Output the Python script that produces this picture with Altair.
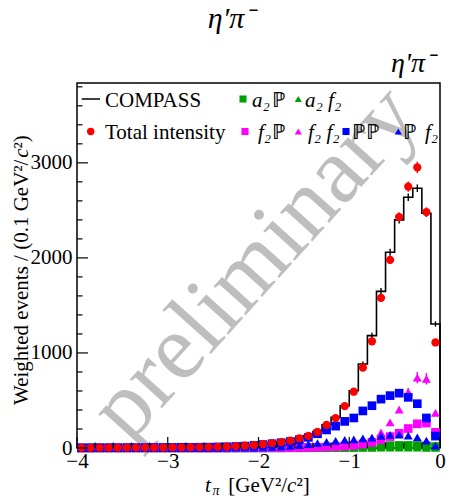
import altair as alt
import pandas as pd

FONT = "Liberation Serif"
W, H = 363, 365

# ---- data (bin centres in t_pi, 0.1 GeV^2/c^2 bins) ----
t_centers = [-3.95, -3.85, -3.75, -3.65, -3.55, -3.45, -3.35, -3.25, -3.15, -3.05,
             -2.95, -2.85, -2.75, -2.65, -2.55, -2.45, -2.35, -2.25, -2.15, -2.05,
             -1.95, -1.85, -1.75, -1.65, -1.55, -1.45, -1.35, -1.25, -1.15, -1.05,
             -0.95, -0.85, -0.75, -0.65, -0.55, -0.45, -0.35, -0.25, -0.15, -0.05]

compass = [3, 3, 4, 3, 4, 5, 4, 5, 6, 5,
           7, 7, 8, 10, 11, 13, 16, 20, 25, 32,
           40, 53, 65, 80, 100, 130, 172, 245, 322, 445,
           603, 884, 1182, 1648, 2059, 2400, 2638, 2733, 2470, 1305]
compass_err = [2, 2, 2, 2, 2, 2, 2, 2, 3, 3,
               3, 3, 3, 4, 4, 4, 5, 5, 6, 6,
               7, 8, 9, 10, 11, 12, 14, 16, 18, 20,
               22, 26, 30, 34, 36, 38, 40, 40, 38, 28]

total = [2, 2, 3, 3, 3, 4, 4, 4, 5, 5,
         6, 7, 8, 9, 10, 12, 15, 19, 24, 31,
         42, 52, 63, 78, 101, 127, 170, 242, 315, 440,
         592, 845, 1123, 1579, 1979, 2430, 2750, 2952, 2482, 1110]
total_err = [2, 2, 2, 2, 2, 2, 2, 2, 3, 3,
             3, 3, 3, 4, 4, 4, 5, 5, 6, 6,
             7, 8, 9, 10, 11, 12, 14, 16, 18, 20,
             24, 28, 34, 40, 44, 50, 55, 60, 50, 35]

pp = [2, 2, 3, 3, 3, 4, 4, 4, 5, 5,
      6, 7, 7, 8, 9, 11, 13, 16, 20, 27,
      36, 45, 55, 68, 88, 112, 150, 190, 230, 280,
      316, 390, 445, 514, 551, 577, 533, 466, 316, 125]

pf2 = [0, 0, 0, 0, 0, 0, 0, 0, 0, 0,
       1, 1, 1, 1, 2, 2, 3, 3, 4, 5,
       7, 10, 15, 22, 30, 40, 52, 64, 76, 86,
       92, 100, 110, 128, 138, 140, 130, 112, 78, 25]

f2p = [0, 0, 0, 0, 0, 0, 0, 0, 0, 0,
       0, 0, 0, 0, 0, 0, 0, 1, 1, 1,
       1, 2, 2, 3, 3, 5, 7, 10, 14, 20,
       28, 42, 60, 87, 120, 155, 205, 255, 262, 165]

f2f2 = [0, 0, 0, 0, 0, 0, 0, 0, 0, 0,
        0, 0, 0, 0, 0, 0, 0, 0, 1, 1,
        2, 3, 4, 6, 8, 11, 14, 18, 22, 28,
        38, 60, 100, 165, 270, 405, 590, 740, 728, 370]
f2f2_err = [0, 0, 0, 0, 0, 0, 0, 0, 0, 0,
            0, 0, 0, 0, 0, 0, 0, 0, 1, 1,
            1, 1, 2, 2, 3, 3, 4, 5, 6, 7,
            8, 10, 14, 18, 24, 30, 40, 60, 60, 30]

a2p = [0, 0, 0, 0, 0, 0, 0, 0, 0, 0,
       0, 0, 0, 0, 0, 0, 0, 0, 0, 1,
       1, 1, 1, 2, 2, 2, 3, 3, 4, 5,
       8, 12, 18, 22, 25, 27, 27, 25, 22, 15]

a2f2 = [0, 0, 0, 0, 0, 0, 0, 0, 0, 0,
        0, 0, 0, 0, 0, 0, 0, 0, 0, 0,
        0, 0, 0, 0, 1, 1, 1, 1, 1, 1,
        2, 2, 2, 3, 3, 3, 3, 3, 2, 2]

x_major = [-4, -3, -2, -1, 0]
x_minor = [-3.8, -3.6, -3.4, -3.2, -2.8, -2.6, -2.4, -2.2, -1.8, -1.6, -1.4, -1.2,
           -0.8, -0.6, -0.4, -0.2]
y_major = [0, 1000, 2000, 3000]
y_minor = [200, 400, 600, 800, 1200, 1400, 1600, 1800, 2200, 2400, 2600, 2800,
           3200, 3400, 3600, 3800]

RED, BLUE, MAG, GREEN = "#ff0000", "#0000ff", "#ff00ff", "#00a000"

xs = alt.Scale(domain=[-4, 0], nice=False, zero=False)
ys = alt.Scale(domain=[0, 3840], nice=False, zero=False)

X_AX = alt.Axis(values=x_major,
                labelExpr="datum.value < 0 ? '\u2212' + abs(datum.value) : '0'",
                ticks=False, tickSize=0, domain=False, grid=False, labelFont=FONT,
                labelFontSize=21, labelPadding=2, labelColor="black", title=None,
                labelFlush=False)
Y_AX = alt.Axis(values=y_major, format="d", ticks=False, tickSize=0, domain=False,
                grid=False, labelFont=FONT, labelFontSize=21, labelPadding=5,
                labelColor="black", title=None, labelFlush=False)


def X(f):
    return alt.X(f, scale=xs, axis=X_AX)


def Y(f):
    return alt.Y(f, scale=ys, axis=Y_AX)


one = pd.DataFrame({"k": [0]})


def txt(s, x, y, size=21, italic=False, align="left", baseline="alphabetic",
        angle=None, color="black"):
    kw = dict(font=FONT, fontSize=size, align=align, baseline=baseline, color=color)
    if italic:
        kw["fontStyle"] = "italic"
    if angle is not None:
        kw["angle"] = angle
    return alt.Chart(one).mark_text(**kw).encode(
        x=alt.value(x), y=alt.value(y), text=alt.value(s))


def sym(shape, color, x, y, size=50):
    return alt.Chart(one).mark_point(shape=shape, filled=True, size=size, color=color,
                                     opacity=1, strokeWidth=0).encode(
        x=alt.value(x), y=alt.value(y))


layers = []

# watermark
layers.append(txt("preliminary", 178, 180, size=94, align="center",
                  baseline="middle", angle=312, color="#bebebe"))

# COMPASS histogram (step)
edges, hv, order = [], [], []
for i, (c, v) in enumerate(zip(t_centers, compass)):
    edges.append(round(c - 0.05, 3)); hv.append(v); order.append(i)
edges += [0.0, 0.0]; hv += [compass[-1], 0]; order += [40, 41]
hist_df = pd.DataFrame({"t": edges, "v": hv, "o": order})

layers.append(
    alt.Chart(hist_df).mark_line(interpolate="step-after", color="black", strokeWidth=1.6)
    .encode(x=X("t:Q"), y=Y("v:Q"), order=alt.Order("o:Q"))
)

herr = pd.DataFrame({"t": t_centers,
                     "lo": [v - e for v, e in zip(compass, compass_err)],
                     "hi": [v + e for v, e in zip(compass, compass_err)]})
layers.append(alt.Chart(herr).mark_rule(color="black", strokeWidth=1.4).encode(
    x=X("t:Q"), y=Y("lo:Q"), y2="hi:Q"))


def series(vals, shape, color, size, errs=None):
    df = pd.DataFrame({"t": t_centers, "v": vals})
    out = []
    if errs is not None:
        df["lo"] = [v - e for v, e in zip(vals, errs)]
        df["hi"] = [v + e for v, e in zip(vals, errs)]
        out.append(alt.Chart(df).mark_rule(color=color, strokeWidth=1.4).encode(
            x=X("t:Q"), y=Y("lo:Q"), y2="hi:Q"))
    out.append(alt.Chart(df).mark_point(shape=shape, filled=True, size=size, color=color,
                                        opacity=1, strokeWidth=0).encode(
        x=X("t:Q"), y=Y("v:Q")))
    return out


layers += series(a2f2, "triangle-up", GREEN, 80)
layers += series(a2p, "square", GREEN, 75)
layers += series(f2p, "square", MAG, 75)
layers += series(f2f2, "triangle-up", MAG, 80, f2f2_err)
layers += series(pp, "square", BLUE, 75)
layers += series(pf2, "triangle-up", BLUE, 80)
layers += series(total, "circle", RED, 68, total_err)

# ticks (inside frame)
layers.append(alt.Chart(pd.DataFrame({"t": x_major})).mark_rule(color="black", strokeWidth=1.2)
              .encode(x=X("t:Q"), y=alt.value(H), y2=alt.value(H - 11)))
layers.append(alt.Chart(pd.DataFrame({"t": x_minor})).mark_rule(color="black", strokeWidth=1.2)
              .encode(x=X("t:Q"), y=alt.value(H), y2=alt.value(H - 5.5)))
layers.append(alt.Chart(pd.DataFrame({"v": y_major})).mark_rule(color="black", strokeWidth=1.2)
              .encode(y=Y("v:Q"), x=alt.value(0), x2=alt.value(11)))
layers.append(alt.Chart(pd.DataFrame({"v": y_minor})).mark_rule(color="black", strokeWidth=1.2)
              .encode(y=Y("v:Q"), x=alt.value(0), x2=alt.value(5.5)))

# legend
r1, r2 = 16, 48.5
b1, b2 = 23.7, 55.5
layers.append(alt.Chart(one).mark_rule(color="black", strokeWidth=1.5).encode(
    x=alt.value(4.7), x2=alt.value(23), y=alt.value(r1)))
layers.append(txt("COMPASS", 28, b1))
layers.append(sym("square", GREEN, 166, r1))
layers.append(txt("a\u2082", 175, b1, italic=True))
layers.append(txt("\u2119", 194.7, b1))
layers.append(sym("triangle-up", GREEN, 221.3, r1))
layers.append(txt("a\u2082 f\u2082", 228, b1, italic=True))

layers.append(sym("circle", RED, 13.7, r2, size=55))
layers.append(txt("Total intensity", 28, b2))
layers.append(sym("square", MAG, 168, r2))
layers.append(txt("f\u2082", 181, b2, italic=True))
layers.append(txt("\u2119", 194.7, b2))
layers.append(sym("triangle-up", MAG, 221.3, r2))
layers.append(txt("f\u2082 f\u2082", 231, b2, italic=True))
layers.append(sym("square", BLUE, 269, r2))
layers.append(txt("\u2119\u2119", 274.7, b2))
layers.append(sym("triangle-up", BLUE, 321.3, r2))
layers.append(txt("\u2119", 326, b2))
layers.append(txt("f\u2082", 348, b2, italic=True))

# titles
layers.append(txt("\u03b7\u2032\u03c0\u207b", 154, -55, size=30, italic=True, align="center"))
layers.append(txt("\u03b7'\u03c0\u207b", 357, -11, size=28, italic=True, align="right"))

# x-axis title pieces
layers.append(txt("t", 128, 408.7, italic=True))
layers.append(txt("\u03c0", 135.5, 412, size=14, italic=True))
layers.append(txt("[GeV\u00b2/", 151.3, 408.7))
layers.append(txt("c", 210.1, 408.7, italic=True))
layers.append(txt("\u00b2]", 219.4, 408.7))

# y-axis title pieces (rotated)
layers.append(txt("Weighted events / (0.1 GeV\u00b2/", -48.7, 322, angle=270))
layers.append(txt("c", -48.7, 74.8, angle=270, italic=True))
layers.append(txt("\u00b2)", -48.7, 65.5, angle=270))

chart = alt.layer(*layers).properties(
    width=W, height=H,
    padding={"left": 77, "top": 83, "right": 9, "bottom": 52},
    autosize=alt.AutoSizeParams(type="none"),
    background="white",
).configure_view(stroke="black", strokeWidth=1.5)

chart.save("out.html", embed_options={"renderer": "svg", "actions": False})
